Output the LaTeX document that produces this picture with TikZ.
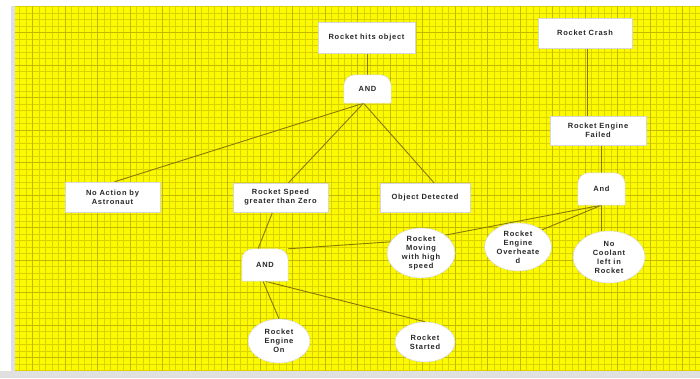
\documentclass[tikz,border=0pt]{standalone}
\usepackage{fontspec}
\setmainfont{Liberation Sans}
\usetikzlibrary{shapes.geometric,calc}
\pgfdeclarelayer{gridlayer}
\pgfdeclarelayer{linelayer}
\pgfdeclarelayer{shapelayer}
\pgfsetlayers{gridlayer,linelayer,shapelayer,main}
\definecolor{bgyellow}{RGB}{252,250,0}
\definecolor{gridminor}{RGB}{220,210,0}
\definecolor{gridmajor}{RGB}{196,184,0}
\definecolor{conn}{RGB}{135,122,0}
\definecolor{edgegray}{RGB}{215,215,215}
\definecolor{txt}{RGB}{40,40,40}
\definecolor{leftedge}{RGB}{222,222,232}
\tikzset{
  lbl/.style={font=\bfseries\fontsize{7.5}{9}\selectfont\addfontfeatures{LetterSpace=10},
              text=txt, align=center, inner sep=0pt},
  evbox/.style={lbl, rectangle, fill=white, draw=edgegray, line width=0.5pt},
  gatenode/.style={lbl, rectangle},
  evell/.style={lbl, ellipse, fill=white, draw=edgegray, line width=0.5pt},
  conline/.style={draw=conn, line width=0.9pt},
  gatefill/.style={fill=white, draw=edgegray, line width=0.5pt},
}
\begin{document}
\begin{tikzpicture}[x=1pt,y=-1pt]
\useasboundingbox (0,0) rectangle (700,378);

% events (boxes)
\node[evbox, minimum width=97pt, minimum height=31pt] (top1) at (366.5,37.5) {Rocket hits object};
\node[evbox, minimum width=94pt, minimum height=30pt] (crash) at (585,33) {Rocket Crash};
\node[evbox, minimum width=96pt, minimum height=29pt] (failed) at (598,130.5) {Rocket Engine\\Failed};
\node[evbox, minimum width=95pt, minimum height=30pt] (noaction) at (112.5,197) {No Action by\\Astronaut};
\node[evbox, minimum width=95pt, minimum height=29pt] (speed) at (280.5,197.5) {Rocket Speed\\greater than Zero};
\node[evbox, minimum width=90pt, minimum height=29pt] (objdet) at (425,197.5) {Object Detected};

% gates
\node[gatenode, minimum width=47pt, minimum height=28pt] (g1) at (367.5,89) {AND};
\node[gatenode, minimum width=47pt, minimum height=32pt] (g2) at (601.5,189) {And};
\node[gatenode, minimum width=46pt, minimum height=32pt] (g3) at (265,265) {AND};

% basic events (ellipses)
\node[evell, minimum width=68pt, minimum height=50pt] (moving) at (421,253) {Rocket\\Moving\\with high\\speed};
\node[evell, minimum width=67pt, minimum height=48pt] (overheat) at (518,247) {Rocket\\Engine\\Overheate\\d};
\node[evell, minimum width=72pt, minimum height=52pt] (coolant) at (609,257) {No\\Coolant\\left in\\Rocket};
\node[evell, minimum width=62pt, minimum height=44pt] (engon) at (279,341) {Rocket\\Engine\\On};
\node[evell, minimum width=60pt, minimum height=40pt] (started) at (425,342) {Rocket\\Started};

% gate shapes
\begin{pgfonlayer}{shapelayer}
  \foreach \g in {g1,g2,g3}{
    \path[gatefill] (\g.south west) [rounded corners=11pt] -- (\g.north west) -- (\g.north east) [sharp corners] -- (\g.south east) -- cycle;
  }
\end{pgfonlayer}

% connectors
\coordinate (crashfoot) at ($(crash.south)+(2,0)$);
\coordinate (g1foot) at ($(g1.south)+(-4,0)$);
\begin{pgfonlayer}{linelayer}
  \draw[conline] (top1.south -| g1.north) -- (g1.north);
  \draw[conline] (g1foot) -- ($(noaction.north)+(2,0)$);
  \draw[conline] (g1foot) -- ($(speed.north)+(8,0)$);
  \draw[conline] (g1foot) -- ($(objdet.north)+(9,0)$);
  \draw[conline] (crashfoot) -- (crashfoot |- failed.north);
  \draw[conline] (g2.north |- failed.south) -- (g2.north);
  \draw[conline] (g2.south) -- (moving.north east);
  \draw[conline] (g2.south) -- (overheat.north east);
  \draw[conline] (g2.south) -- (g2.south |- coolant.north);
  \draw[conline] ($(speed.south)+(-8,0)$) -- ($(g3.north)+(-7,0)$);
  \draw[conline] (g3.north east) -- (moving.160);
  \draw[conline] ($(g3.south)+(-2,0)$) -- (engon.north);
  \draw[conline] (g3.south) -- (started.north);
\end{pgfonlayer}

% background
\begin{pgfonlayer}{gridlayer}
  \fill[white] (0,0) rectangle (700,378);
  \fill[bgyellow] (15,6) rectangle (700,371);
  \draw[gridminor, line width=0.35pt, step=6.5pt] (15,6) grid (700,371);
  \draw[gridmajor, line width=0.5pt, step=32.5pt] (15,6) grid (700,371);
  \fill[black!12] (0,371) rectangle (700,378);
  \fill[leftedge] (11,6) rectangle (15,371);
\end{pgfonlayer}
\end{tikzpicture}
\end{document}
